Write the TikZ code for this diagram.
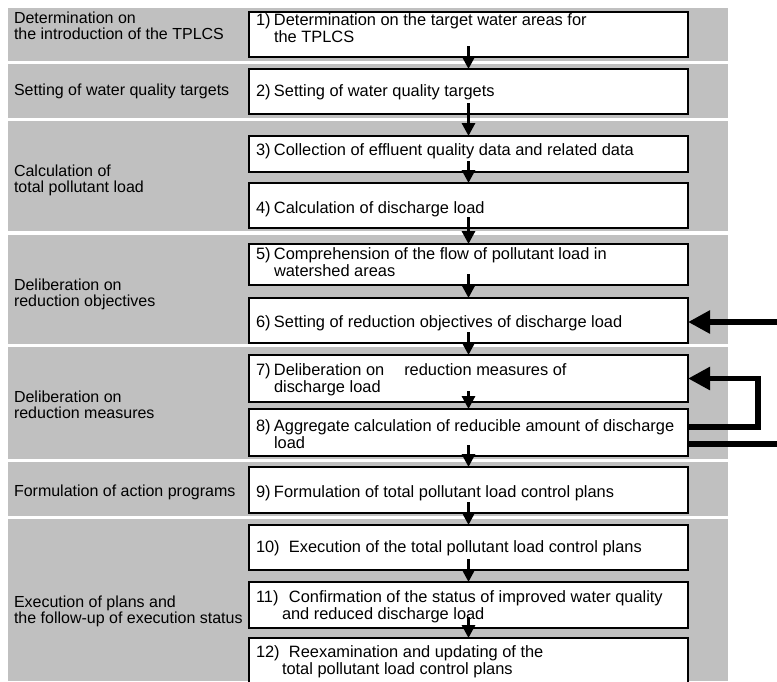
\documentclass[tikz,border=0pt]{standalone}
\usepackage{fontspec}
\setmainfont{Liberation Sans}
\usetikzlibrary{arrows.meta}
\definecolor{bandgray}{HTML}{C0C0C0}
% fixed-width slot for the step numbers
\newcommand\steplab[2]{\makebox[#1][l]{#2}}
\tikzset{
  band/.style={fill=bandgray},
  stepbox/.style={draw=black, fill=white, line width=1.2pt, inner sep=0pt,
    outer sep=0pt, minimum width=439pt, anchor=north west},
  % multi-line texts sit on the baseline of their last line
  txt/.style={anchor=base west, inner sep=0pt, outer sep=0pt, align=left,
    font=\fontsize{16.4}{17}\selectfont},
  phase/.style={anchor=base west, inner sep=0pt, outer sep=0pt, align=left,
    font=\fontsize{16}{16}\selectfont},
  downarrow/.style={line width=3pt, -{Triangle[length=13pt,width=13pt]}},
  fatline/.style={line width=5.5pt},
  fatarrow/.style={line width=5.5pt, -{Triangle[length=22pt,width=22pt]}},
}
\begin{document}
\begin{tikzpicture}[x=1pt, y=-1pt]
\useasboundingbox (0,0) rectangle (777,681);
\clip (0,0) rectangle (777,681);

% phase bands
\fill[band] (8,8)   rectangle (728,61);
\fill[band] (8,64)  rectangle (728,118);
\fill[band] (8,121) rectangle (728,231);
\fill[band] (8,235) rectangle (728,344);
\fill[band] (8,347) rectangle (728,459);
\fill[band] (8,462) rectangle (728,516);
\fill[band] (8,519) rectangle (728,681);

% phase labels
\node[phase] (p1) at (14,39)  {Determination on\\the introduction of the TPLCS};
\node[phase] (p2) at (14,95)  {Setting of water quality targets};
\node[phase] (p3) at (14,192) {Calculation of\\total pollutant load};
\node[phase] (p4) at (14,306) {Deliberation on\\reduction objectives};
\node[phase] (p5) at (14,418) {Deliberation on\\reduction measures};
\node[phase] (p6) at (14,496) {Formulation of action programs};
\node[phase] (p7) at (14,623) {Execution of plans and\\the follow-up of execution status};

% step boxes
\node[stepbox, minimum height=45pt] (b1)  at (249,12)  {};
\node[stepbox, minimum height=45pt] (b2)  at (249,69)  {};
\node[stepbox, minimum height=36pt] (b3)  at (249,136) {};
\node[stepbox, minimum height=45pt] (b4)  at (249,183) {};
\node[stepbox, minimum height=41pt] (b5)  at (249,244) {};
\node[stepbox, minimum height=45pt] (b6)  at (249,298) {};
\node[stepbox, minimum height=47pt] (b7)  at (249,355) {};
\node[stepbox, minimum height=47pt] (b8)  at (249,409) {};
\node[stepbox, minimum height=46pt] (b9)  at (249,467) {};
\node[stepbox, minimum height=45pt] (b10) at (249,525) {};
\node[stepbox, minimum height=46pt] (b11) at (249,582) {};
\node[stepbox, minimum height=60pt] (b12) at (249,638) {};

% step texts
\node[txt] (t1) at (256,42) {\steplab{18pt}{1)}Determination on the target water areas for\\\steplab{18pt}{}the TPLCS};
\node[txt] (t2) at (256,96) {\steplab{18pt}{2)}Setting of water quality targets};
\node[txt] (t3) at (256,155) {\steplab{18pt}{3)}Collection of effluent quality data and related data};
\node[txt] (t4) at (256,213) {\steplab{18pt}{4)}Calculation of discharge load};
\node[txt] (t5) at (256,276) {\steplab{18pt}{5)}Comprehension of the flow of pollutant load in\\\steplab{18pt}{}watershed areas};
\node[txt] (t6) at (256,327) {\steplab{18pt}{6)}Setting of reduction objectives of discharge load};
\node[txt] (t7) at (256,392) {\steplab{18pt}{7)}Deliberation on\hspace*{20pt}reduction measures of\\\steplab{18pt}{}discharge load};
\node[txt] (t8) at (256,448) {\steplab{18pt}{8)}Aggregate calculation of reducible amount of discharge\\\steplab{18pt}{}load};
\node[txt] (t9) at (256,497) {\steplab{18pt}{9)}Formulation of total pollutant load control plans};
\node[txt] (t10) at (256,552) {\steplab{33pt}{10)}Execution of the total pollutant load control plans};
\node[txt] (t11) at (256,619) {\steplab{33pt}{11)}Confirmation of the status of improved water quality\\\hspace*{26pt}and reduced discharge load};
\node[txt] (t12) at (256,674) {\steplab{33pt}{12)}Reexamination and updating of the\\\hspace*{26pt}total pollutant load control plans};

% flow between steps
\foreach \a/\b in {b1/b2,b2/b3,b3/b4,b4/b5,b5/b6,b6/b7,b7/b8,b8/b9,b9/b10,b10/b11,b11/b12}
  \draw[downarrow] ([yshift=11pt]\a.south) -- (\b.north);

% feedback connectors on the right
\coordinate (inA)  at (777,322);
\coordinate (outB) at (777,444);
\draw[fatarrow] (inA) -- (inA -| b6.east);
\draw[fatarrow] ([yshift=5.5pt]b8.east) -- ++(70,0) |- (b7.east);
\draw[fatline] (outB -| b8.east) -- (outB);
\end{tikzpicture}
\end{document}
